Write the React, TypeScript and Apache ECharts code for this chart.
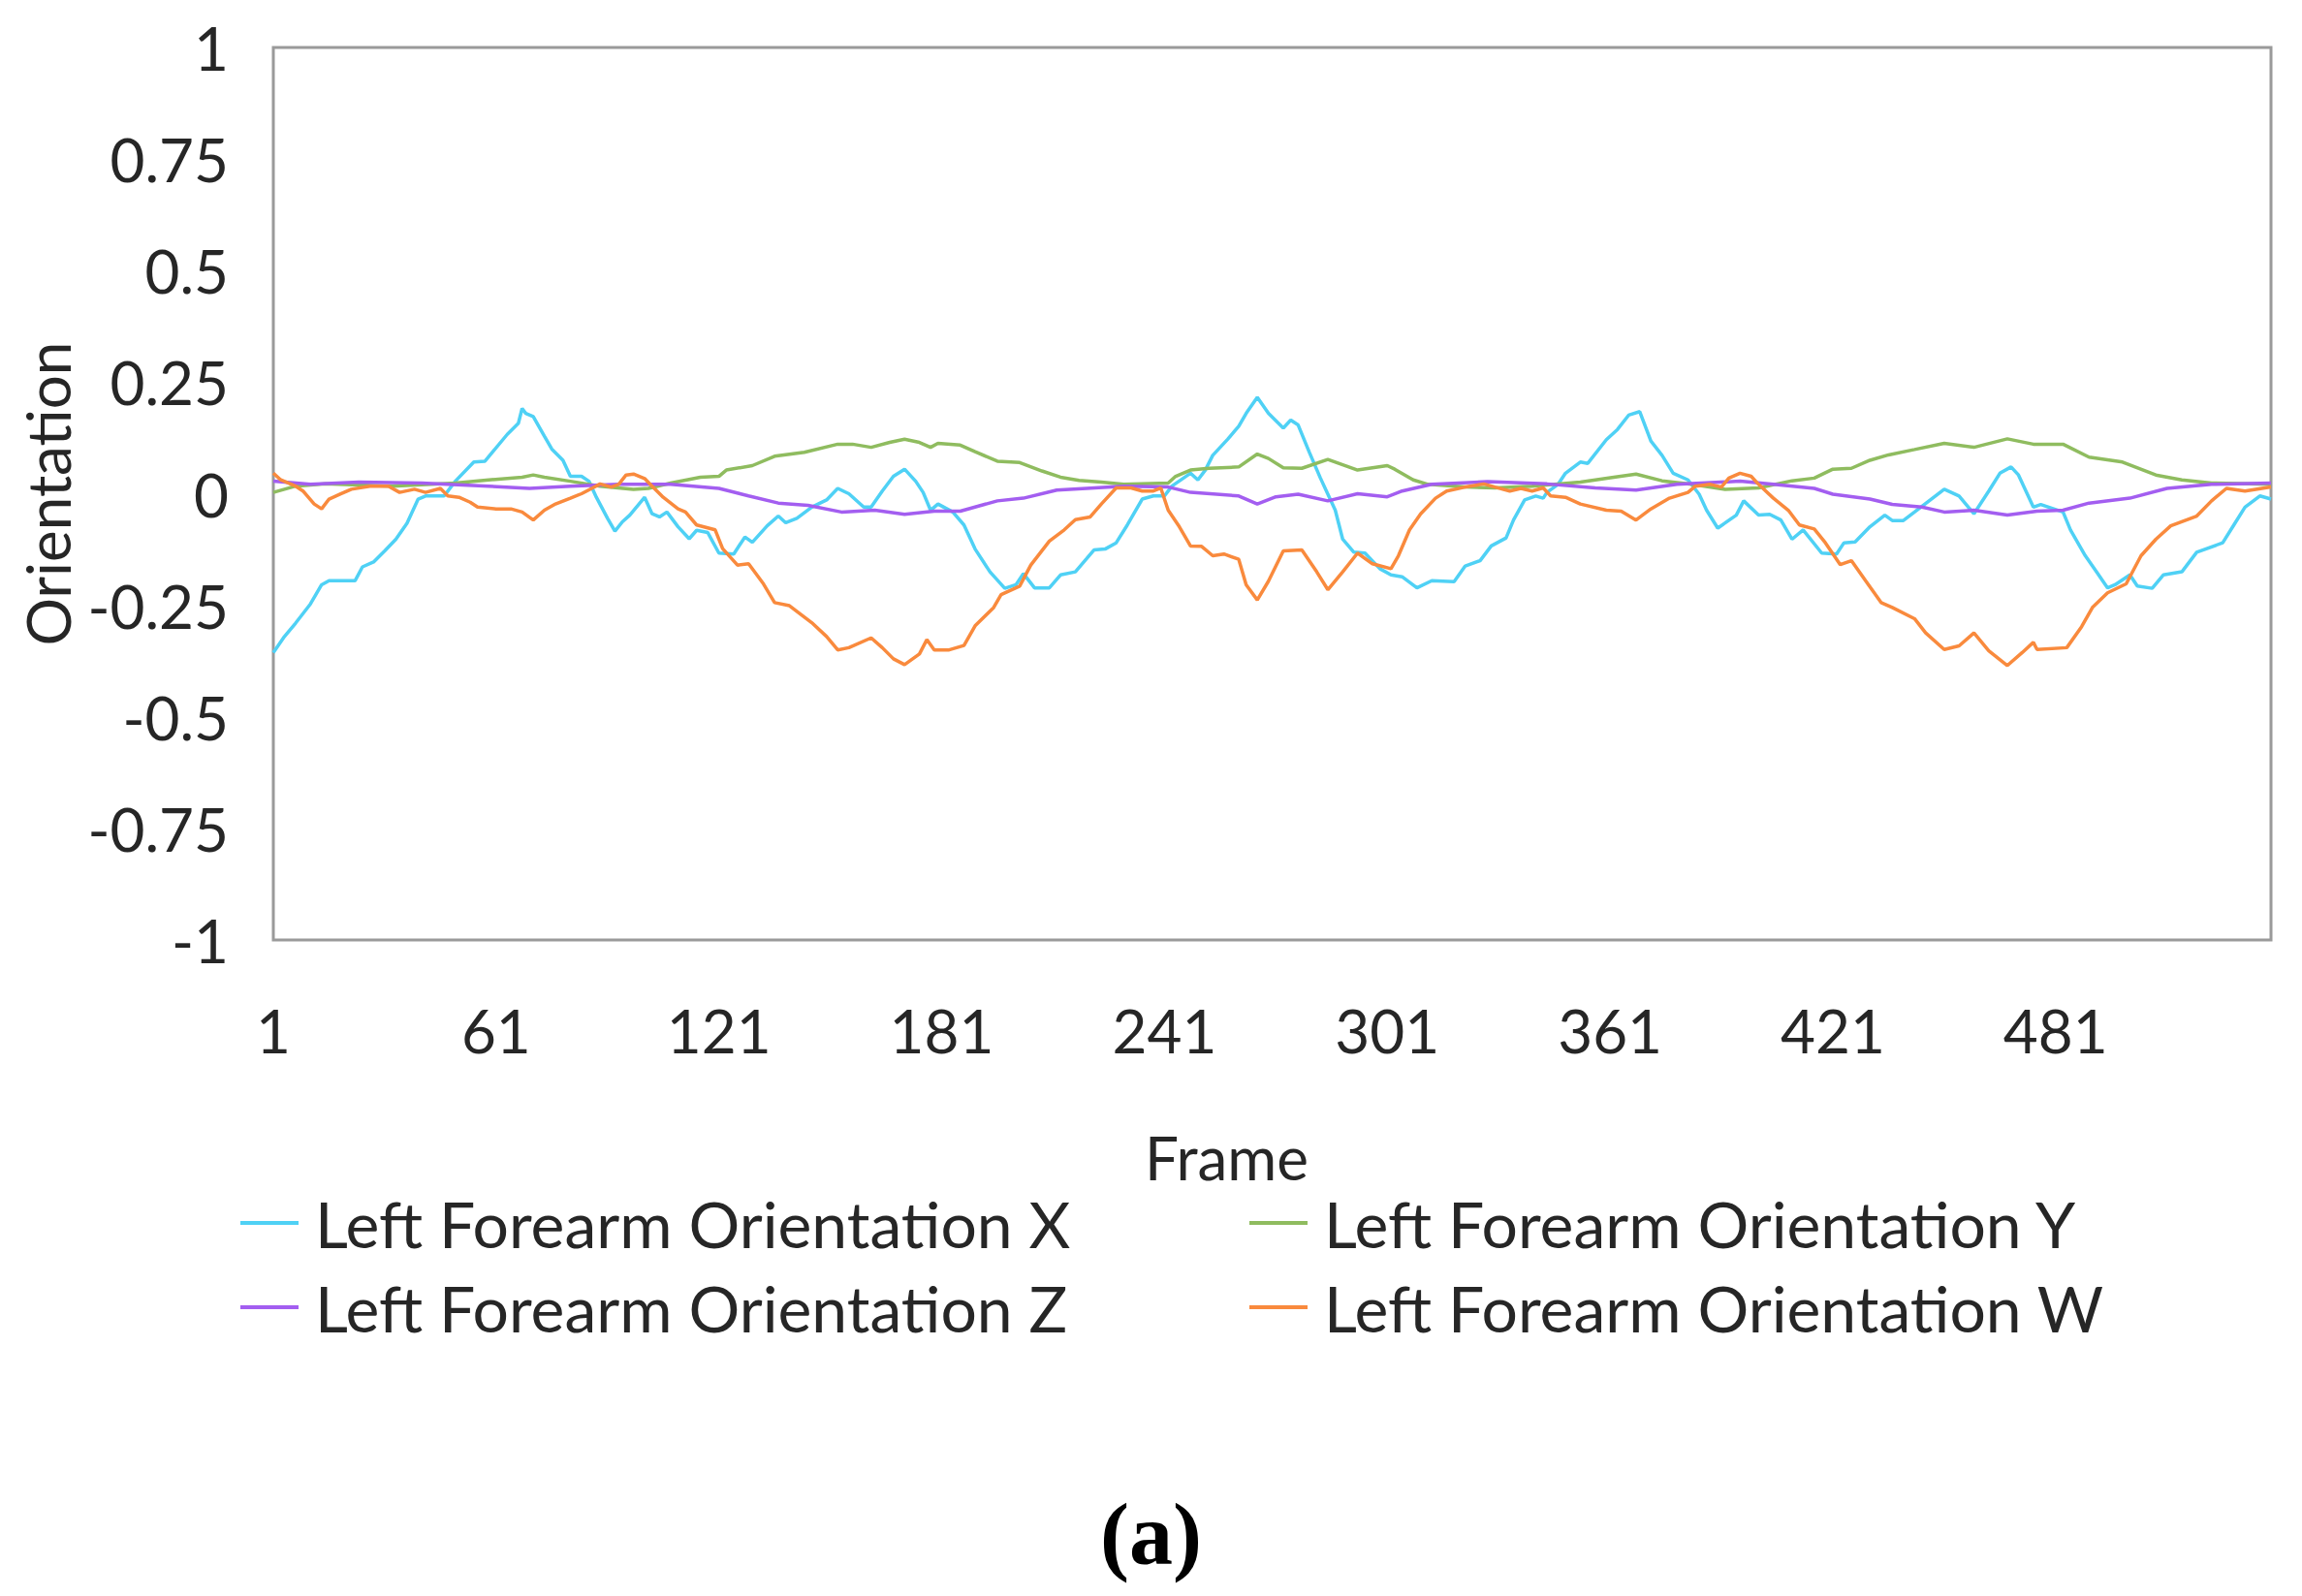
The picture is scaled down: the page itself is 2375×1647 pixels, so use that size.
import React, { useEffect, useRef } from "react";
import * as echarts from "echarts";

const FRAME_COUNT = 539;
const frameCategories: string[] = Array.from({ length: FRAME_COUNT }, (_, i) => String(i + 1));

const seriesNames = [
  "Left Forearm Orientation X",
  "Left Forearm Orientation Y",
  "Left Forearm Orientation Z",
  "Left Forearm Orientation W",
];
const seriesColors = ["#4FD1F5", "#8FBC5F", "#A35EF0", "#F98A3D"];

// [frame, value]
const orientationX: [number, number][] = [
  [1, -0.356], [4, -0.32], [7, -0.29], [11, -0.247], [14, -0.204], [16, -0.195], [23, -0.195], [25, -0.164],
  [28, -0.153], [31, -0.128], [34, -0.102], [37, -0.066], [40, -0.012], [42, -0.005], [47, -0.005], [50, 0.028],
  [55, 0.071], [58, 0.073], [60, 0.093], [64, 0.133], [67, 0.158], [68, 0.191], [69, 0.18], [71, 0.173],
  [74, 0.129], [76, 0.1], [79, 0.075], [81, 0.039], [84, 0.039], [86, 0.028], [88, -0.008], [91, -0.055],
  [93, -0.084], [95, -0.063], [97, -0.048], [101, -0.008], [103, -0.045], [105, -0.052], [107, -0.041], [110, -0.074],
  [113, -0.101], [115, -0.082], [118, -0.087], [121, -0.133], [125, -0.135], [128, -0.097], [130, -0.109], [134, -0.072],
  [137, -0.05], [139, -0.065], [142, -0.055], [146, -0.03], [150, -0.014], [153, 0.012], [156, 0], [160, -0.03],
  [162, -0.03], [165, 0.006], [168, 0.039], [171, 0.055], [174, 0.028], [176, 0.003], [178, -0.037], [180, -0.023],
  [184, -0.041], [187, -0.07], [190, -0.124], [194, -0.175], [198, -0.212], [201, -0.204], [203, -0.179], [206, -0.211],
  [210, -0.211], [213, -0.182], [217, -0.175], [220, -0.146], [222, -0.126], [225, -0.124], [228, -0.11], [231, -0.07],
  [235, -0.012], [238, -0.005], [241, -0.005], [243, 0.017], [248, 0.046], [250, 0.031], [252, 0.053], [254, 0.086],
  [258, 0.122], [261, 0.151], [263, 0.18], [266, 0.216], [269, 0.18], [273, 0.147], [275, 0.165], [277, 0.154],
  [280, 0.093], [283, 0.035], [287, -0.037], [289, -0.102], [292, -0.131], [295, -0.133], [299, -0.168], [302, -0.182],
  [305, -0.186], [309, -0.211], [313, -0.195], [319, -0.197], [322, -0.162], [326, -0.15], [329, -0.117], [333, -0.099],
  [335, -0.059], [338, -0.014], [341, -0.005], [343, -0.01], [344, 0.003], [347, 0.021], [349, 0.046], [353, 0.071],
  [355, 0.068], [360, 0.121], [363, 0.144], [366, 0.176], [369, 0.184], [372, 0.118], [375, 0.086], [378, 0.046],
  [382, 0.031], [385, -0.001], [387, -0.037], [390, -0.077], [395, -0.048], [397, -0.016], [401, -0.048], [404, -0.046],
  [407, -0.059], [410, -0.102], [413, -0.081], [418, -0.133], [422, -0.135], [424, -0.11], [427, -0.108], [431, -0.074],
  [435, -0.048], [437, -0.06], [440, -0.06], [443, -0.041], [451, 0.01], [455, -0.005], [459, -0.045], [463, 0.006],
  [466, 0.046], [469, 0.06], [471, 0.042], [475, -0.03], [477, -0.024], [483, -0.041], [485, -0.081], [489, -0.139],
  [492, -0.175], [495, -0.211], [497, -0.204], [501, -0.182], [503, -0.207], [507, -0.212], [510, -0.182], [515, -0.175],
  [519, -0.131], [526, -0.11], [529, -0.07], [532, -0.03], [536, -0.005], [539, -0.012],
];

const orientationY: [number, number][] = [
  [1, 0.003], [7, 0.017], [15, 0.022], [33, 0.017], [50, 0.024], [59, 0.031], [68, 0.037], [71, 0.042],
  [74, 0.037], [81, 0.028], [89, 0.017], [98, 0.01], [102, 0.012], [108, 0.024], [116, 0.037], [121, 0.039],
  [123, 0.053], [130, 0.063], [136, 0.084], [144, 0.093], [153, 0.111], [157, 0.111], [162, 0.104], [167, 0.115],
  [171, 0.122], [175, 0.115], [178, 0.104], [180, 0.113], [186, 0.109], [190, 0.094], [196, 0.073], [202, 0.07],
  [208, 0.051], [213, 0.037], [218, 0.03], [224, 0.026], [230, 0.021], [242, 0.024], [244, 0.039], [248, 0.053],
  [253, 0.057], [261, 0.06], [266, 0.089], [269, 0.079], [273, 0.058], [278, 0.057], [285, 0.077], [289, 0.065],
  [293, 0.053], [301, 0.063], [303, 0.055], [308, 0.031], [312, 0.021], [322, 0.015], [330, 0.013], [340, 0.017],
  [353, 0.026], [362, 0.037], [368, 0.044], [375, 0.029], [383, 0.021], [392, 0.01], [401, 0.013], [410, 0.029],
  [416, 0.035], [421, 0.055], [426, 0.057], [431, 0.075], [436, 0.087], [443, 0.099], [451, 0.113], [459, 0.104],
  [468, 0.123], [475, 0.111], [483, 0.111], [490, 0.082], [499, 0.071], [508, 0.042], [515, 0.031], [523, 0.024],
  [539, 0.021],
];

const orientationZ: [number, number][] = [
  [1, 0.028], [11, 0.021], [24, 0.026], [41, 0.024], [59, 0.017], [70, 0.012], [81, 0.017], [94, 0.021],
  [108, 0.021], [121, 0.012], [129, -0.005], [137, -0.021], [145, -0.026], [154, -0.041], [163, -0.037], [171, -0.046],
  [179, -0.039], [186, -0.039], [196, -0.016], [203, -0.01], [212, 0.008], [220, 0.012], [230, 0.017], [242, 0.015],
  [248, 0.003], [261, -0.005], [266, -0.023], [271, -0.007], [277, -0.001], [285, -0.016], [293, 0], [301, -0.007],
  [305, 0.006], [313, 0.021], [328, 0.027], [344, 0.022], [357, 0.013], [368, 0.008], [379, 0.021], [396, 0.028],
  [405, 0.021], [416, 0.012], [421, -0.001], [431, -0.012], [437, -0.024], [445, -0.03], [451, -0.041], [459, -0.037],
  [468, -0.048], [476, -0.039], [483, -0.037], [490, -0.021], [501, -0.01], [511, 0.012], [523, 0.021], [539, 0.024],
];

const orientationW: [number, number][] = [
  [1, 0.046], [3, 0.031], [7, 0.017], [9, 0.006], [12, -0.023], [14, -0.034], [16, -0.012], [19, -0.001],
  [22, 0.01], [27, 0.017], [32, 0.017], [35, 0.003], [39, 0.01], [42, 0.003], [46, 0.012], [48, -0.005],
  [51, -0.008], [54, -0.019], [56, -0.03], [61, -0.034], [65, -0.034], [68, -0.041], [71, -0.059], [74, -0.037],
  [77, -0.023], [81, -0.01], [84, 0], [87, 0.013], [89, 0.022], [92, 0.015], [94, 0.021], [96, 0.042],
  [98, 0.044], [101, 0.034], [103, 0.017], [106, -0.008], [110, -0.034], [112, -0.041], [115, -0.07], [120, -0.081],
  [122, -0.123], [126, -0.16], [129, -0.157], [133, -0.202], [136, -0.244], [140, -0.251], [146, -0.289], [150, -0.32],
  [153, -0.35], [156, -0.345], [162, -0.323], [165, -0.345], [168, -0.37], [171, -0.383], [175, -0.359], [177, -0.327],
  [179, -0.35], [183, -0.35], [187, -0.34], [190, -0.296], [195, -0.255], [197, -0.226], [202, -0.207], [205, -0.16],
  [210, -0.106], [214, -0.081], [217, -0.058], [221, -0.052], [224, -0.023], [228, 0.013], [232, 0.013], [235, 0.006],
  [238, 0.006], [240, 0.013], [242, -0.037], [245, -0.074], [248, -0.117], [251, -0.118], [254, -0.139], [257, -0.135],
  [261, -0.147], [263, -0.204], [266, -0.238], [269, -0.196], [273, -0.128], [278, -0.126], [282, -0.175], [285, -0.215],
  [289, -0.175], [293, -0.133], [297, -0.157], [302, -0.168], [304, -0.139], [307, -0.081], [310, -0.045], [314, -0.01],
  [317, 0.006], [322, 0.015], [327, 0.022], [330, 0.015], [334, 0.006], [337, 0.012], [340, 0.006], [343, 0.013],
  [345, -0.005], [349, -0.008], [353, -0.023], [360, -0.037], [364, -0.039], [368, -0.059], [372, -0.034], [377, -0.01],
  [382, 0.003], [384, 0.017], [388, 0.021], [391, 0.015], [393, 0.035], [396, 0.046], [399, 0.039], [401, 0.021],
  [405, -0.01], [409, -0.037], [412, -0.07], [416, -0.079], [419, -0.11], [423, -0.159], [426, -0.15], [430, -0.197],
  [434, -0.244], [437, -0.255], [443, -0.28], [446, -0.312], [451, -0.349], [455, -0.341], [459, -0.312], [463, -0.352],
  [468, -0.385], [472, -0.356], [475, -0.333], [476, -0.349], [484, -0.345], [488, -0.298], [491, -0.254], [495, -0.222],
  [500, -0.202], [504, -0.139], [508, -0.102], [512, -0.072], [519, -0.05], [523, -0.016], [527, 0.012], [532, 0.006],
  [539, 0.015],
];

const allSeries = [orientationX, orientationY, orientationZ, orientationW];

const FONT = "Lato, 'Noto Sans', sans-serif";
const TEXT_COLOR = "#262626";

export default function App() {
  const ref = useRef<HTMLDivElement>(null);

  useEffect(() => {
    document.body.style.margin = "0";
    if (!ref.current) return;
    const chart = echarts.init(ref.current, null, { renderer: "svg" });

    const legendText = { fontFamily: FONT, fontSize: 66, color: TEXT_COLOR, padding: [0, 0, 0, 12], lineHeight: 62 };

    const option: any = {
      animation: false,
      backgroundColor: "#ffffff",
      textStyle: { fontFamily: FONT, color: TEXT_COLOR },
      grid: {
        left: 282,
        right: 32,
        top: 49,
        bottom: 677,
        show: true,
        borderColor: "#9a9a9a",
        borderWidth: 3,
        backgroundColor: "transparent",
      },
      legend: [
        {
          orient: "vertical",
          left: 243,
          top: 1224,
          itemWidth: 60,
          itemHeight: 4,
          itemGap: 21,
          icon: "rect",
          data: [seriesNames[0], seriesNames[2]],
          textStyle: legendText,
        },
        {
          orient: "vertical",
          left: 1284,
          top: 1224,
          itemWidth: 60,
          itemHeight: 4,
          itemGap: 21,
          icon: "rect",
          data: [seriesNames[1], seriesNames[3]],
          textStyle: legendText,
        },
      ],
      xAxis: {
        type: "category",
        data: frameCategories,
        boundaryGap: false,
        name: "Frame",
        nameLocation: "middle",
        nameGap: 193,
        nameTextStyle: { fontFamily: FONT, fontSize: 62, color: TEXT_COLOR, padding: [0, 94, 0, 0] },
        axisLine: { show: false },
        axisTick: { show: false },
        splitLine: { show: false },
        axisLabel: {
          interval: (index: number) => index % 60 === 0,
          fontFamily: FONT,
          fontSize: 62,
          color: TEXT_COLOR,
          margin: 62,
        },
      },
      yAxis: {
        type: "value",
        min: -1,
        max: 1,
        interval: 0.25,
        name: "Orientation",
        nameLocation: "middle",
        nameGap: 198,
        nameTextStyle: { fontFamily: FONT, fontSize: 62, color: TEXT_COLOR },
        axisLine: { show: false },
        axisTick: { show: false },
        splitLine: { show: false },
        axisLabel: { fontFamily: FONT, fontSize: 62, color: TEXT_COLOR, margin: 46 },
      },
      series: allSeries.map((pts, i) => ({
        name: seriesNames[i],
        type: "line",
        showSymbol: false,
        symbol: "none",
        color: seriesColors[i],
        lineStyle: { width: 3.5, color: seriesColors[i] },
        data: pts.map(([f, v]) => [String(f), v]),
      })),
      graphic: [
        {
          type: "text",
          left: "center",
          top: 1538,
          style: {
            text: "(a)",
            font: "bold 90px 'Liberation Serif', 'Times New Roman', serif",
            fill: "#000000",
          },
        },
      ],
    };

    chart.setOption(option);
    return () => chart.dispose();
  }, []);

  return <div ref={ref} style={{ width: 2375, height: 1647 }} />;
}
